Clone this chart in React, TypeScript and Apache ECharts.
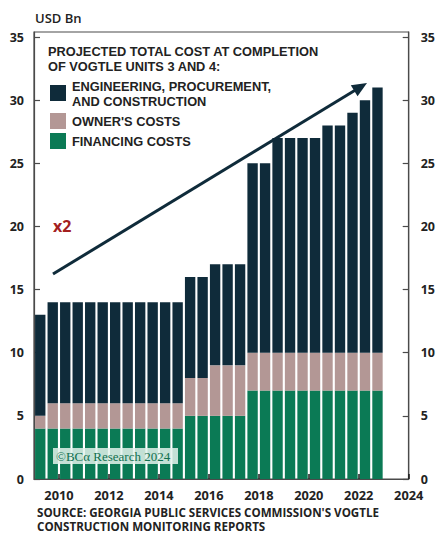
import React, { useEffect, useRef } from "react";
import * as echarts from "echarts";

// Semiannual Vogtle construction monitoring reports (USD Bn)
const periods = [
  "2009 H1", "2009 H2", "2010 H1", "2010 H2", "2011 H1", "2011 H2", "2012 H1", "2012 H2",
  "2013 H1", "2013 H2", "2014 H1", "2014 H2", "2015 H1", "2015 H2", "2016 H1", "2016 H2",
  "2017 H1", "2017 H2", "2018 H1", "2018 H2", "2019 H1", "2019 H2", "2020 H1", "2020 H2",
  "2021 H1", "2021 H2", "2022 H1", "2022 H2",
];
const emptyPeriods = ["2023 H1", "2023 H2"];
const financingCosts = [
  4, 4, 4, 4, 4, 4, 4, 4, 4, 4, 4, 4, 5, 5, 5, 5, 5, 7, 7, 7, 7, 7, 7, 7, 7, 7, 7, 7,
];
const ownersCosts = [
  1, 2, 2, 2, 2, 2, 2, 2, 2, 2, 2, 2, 3, 3, 4, 4, 4, 3, 3, 3, 3, 3, 3, 3, 3, 3, 3, 3,
];
const epcCosts = [
  8, 8, 8, 8, 8, 8, 8, 8, 8, 8, 8, 8, 8, 8, 8, 8, 8, 15, 15, 17, 17, 17, 17, 18, 18, 19, 20, 21,
];
const halfYearMarks = [
  "2009", "2009.5", "2010", "2010.5", "2011", "2011.5", "2012", "2012.5", "2013", "2013.5",
  "2014", "2014.5", "2015", "2015.5", "2016", "2016.5", "2017", "2017.5", "2018", "2018.5",
  "2019", "2019.5", "2020", "2020.5", "2021", "2021.5", "2022", "2022.5", "2023", "2023.5", "2024",
];
const yearLabels = ["2010", "2012", "2014", "2016", "2018", "2020", "2022", "2024"];

const NAVY = "#0f2b3a";
const MAUVE = "#b39795";
const GREEN = "#0b7a55";
const FRAME = "#4a4a4a";
const TEXT = "#222";
const FONT = "'Open Sans', 'Noto Sans', sans-serif";
const HEAD_FONT = "'Liberation Sans', Arial, sans-serif";

export default function App() {
  const ref = useRef<HTMLDivElement>(null);

  useEffect(() => {
    if (!ref.current) return;
    const chart = echarts.init(ref.current, null, { renderer: "svg" });

    const yAxisCommon = {
      type: "value" as const,
      min: 0,
      max: 35.4,
      interval: 5,
      splitLine: { show: false },
      axisLine: { show: true, lineStyle: { color: FRAME, width: 1.2 } },
      axisTick: { show: true, inside: true, length: 6, lineStyle: { color: FRAME, width: 1.2 } },
      axisLabel: {
        showMaxLabel: false,
        margin: 10,
        color: TEXT,
        fontFamily: FONT,
        fontWeight: "bold" as const,
        fontSize: 12.5,
      },
    };

    const barCommon = {
      type: "bar" as const,
      stack: "total",
      barCategoryGap: "17%",
      xAxisIndex: 0,
      yAxisIndex: 0,
    };

    const headFont = `bold 12.8px ${HEAD_FONT}`;
    const LH = 15.5;

    const legendItems = [
      { color: NAVY, text: "ENGINEERING, PROCUREMENT,\nAND CONSTRUCTION", textY: 78.5, boxY: 85 },
      { color: MAUVE, text: "OWNER'S COSTS", textY: 113.5, boxY: 113 },
      { color: GREEN, text: "FINANCING COSTS", textY: 133.5, boxY: 133 },
    ];

    const legendGraphics: any[] = [];
    legendItems.forEach((it) => {
      legendGraphics.push({
        type: "rect",
        shape: { x: 50, y: it.boxY, width: 16, height: 16 },
        style: { fill: it.color },
      });
      legendGraphics.push({
        type: "text",
        x: 72,
        y: it.textY,
        style: {
          text: it.text,
          fill: TEXT,
          font: headFont,
          lineHeight: LH,
          textVerticalAlign: "top",
        },
      });
    });

    // arrow geometry
    const x1 = 53, y1 = 274, tx = 367, ty = 83;
    const dx = tx - x1, dy = ty - y1;
    const len = Math.sqrt(dx * dx + dy * dy);
    const ux = dx / len, uy = dy / len;
    const bx = tx - 15 * ux, by = ty - 15 * uy;
    const nx = -uy, ny = ux;

    chart.setOption({
      animation: false,
      grid: {
        left: 34,
        right: 25,
        top: 32,
        bottom: 54,
        show: true,
        borderColor: FRAME,
        borderWidth: 1.2,
        backgroundColor: "transparent",
      },
      xAxis: [
        {
          type: "category",
          data: [...periods, ...emptyPeriods],
          boundaryGap: true,
          axisLine: { show: true, lineStyle: { color: FRAME, width: 1.2 } },
          axisTick: { show: false },
          axisLabel: { show: false },
          splitLine: { show: false },
        },
        {
          type: "category",
          data: halfYearMarks,
          boundaryGap: false,
          position: "bottom",
          z: 5,
          axisLine: { show: false },
          axisTick: {
            show: true,
            inside: true,
            length: 5,
            lineStyle: { color: "#1a1a1a", width: 1.5 },
            interval: (_i: number, v: string) => yearLabels.includes(v),
          },
          axisLabel: {
            show: true,
            margin: 9,
            color: TEXT,
            fontFamily: FONT,
            fontWeight: "bold",
            fontSize: 12.8,
            interval: (_i: number, v: string) => yearLabels.includes(v),
          },
          splitLine: { show: false },
        },
      ],
      yAxis: [
        { ...yAxisCommon, position: "left" },
        { ...yAxisCommon, position: "right", axisLabel: { ...yAxisCommon.axisLabel, margin: 12 } },
      ],
      series: [
        { ...barCommon, name: "FINANCING COSTS", data: financingCosts, itemStyle: { color: GREEN } },
        { ...barCommon, name: "OWNER'S COSTS", data: ownersCosts, itemStyle: { color: MAUVE } },
        {
          ...barCommon,
          name: "ENGINEERING, PROCUREMENT, AND CONSTRUCTION",
          data: epcCosts,
          itemStyle: { color: NAVY },
        },
      ],
      graphic: [
        {
          type: "text",
          x: 35,
          y: 18,
          style: { text: "USD Bn", fill: TEXT, font: `600 13px ${FONT}`, textVerticalAlign: "middle" },
        },
        {
          type: "text",
          x: 48,
          y: 43.5,
          style: {
            text: "PROJECTED TOTAL COST AT COMPLETION\nOF VOGTLE UNITS 3 AND 4:",
            fill: TEXT,
            font: headFont,
            lineHeight: LH,
            textVerticalAlign: "top",
          },
        },
        ...legendGraphics,
        {
          type: "line",
          shape: { x1, y1, x2: bx + 2 * ux, y2: by + 2 * uy },
          style: { stroke: NAVY, lineWidth: 3 },
          z: 10,
        },
        {
          type: "polygon",
          shape: {
            points: [
              [tx, ty],
              [bx + 6.5 * nx, by + 6.5 * ny],
              [bx - 6.5 * nx, by - 6.5 * ny],
            ],
          },
          style: { fill: NAVY },
          z: 10,
        },
        {
          type: "text",
          x: 53,
          y: 226,
          style: { text: "x2", fill: "#a3201f", font: `bold 16px ${FONT}`, textVerticalAlign: "middle" },
        },
        {
          type: "rect",
          shape: { x: 53, y: 448, width: 125, height: 16 },
          style: { fill: "rgba(228,242,236,0.85)" },
          z: 10,
        },
        {
          type: "text",
          x: 56,
          y: 456,
          z: 11,
          style: {
            text: "©BCα Research 2024",
            fill: "#11704f",
            font: `13px 'Liberation Serif', 'DejaVu Serif', serif`,
            textVerticalAlign: "middle",
          },
        },
        {
          type: "text",
          x: 37,
          y: 505,
          style: {
            text: "SOURCE: GEORGIA PUBLIC SERVICES COMMISSION'S VOGTLE\nCONSTRUCTION MONITORING REPORTS",
            fill: TEXT,
            font: `bold 11.6px ${FONT}`,
            lineHeight: 14,
            textVerticalAlign: "top",
          },
        },
      ],
    });

    return () => chart.dispose();
  }, []);

  return (
    <div
      ref={ref}
      style={{ position: "fixed", left: 0, top: 0, width: 438, height: 533, background: "#fff" }}
    />
  );
}
